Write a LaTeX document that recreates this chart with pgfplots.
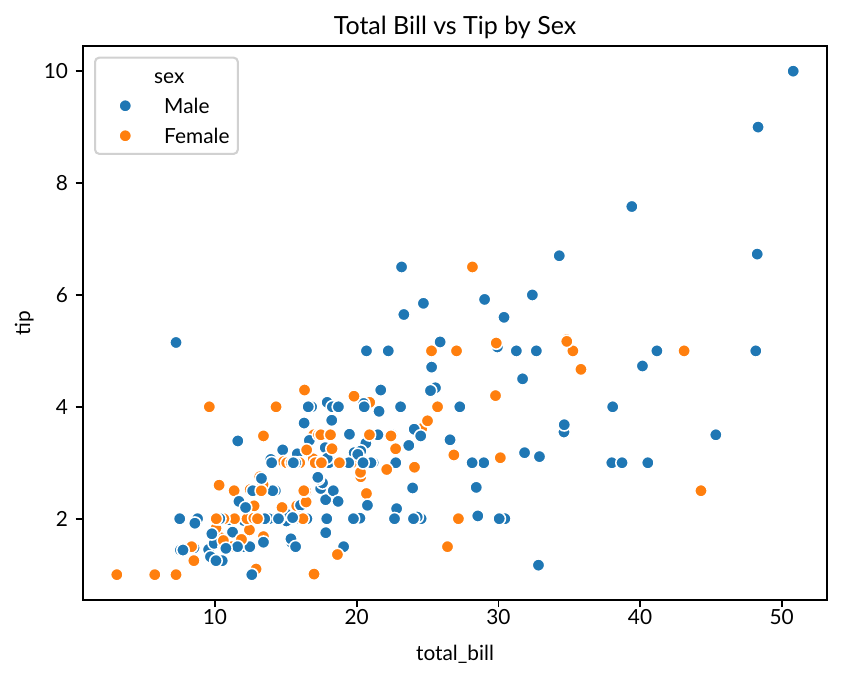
\documentclass[border=0pt]{standalone}
\usepackage{fontspec}
\setmainfont{Lato}
\usepackage{pgfplots}
\usepackage{pgfplotstable}
\pgfplotsset{compat=1.18}

\definecolor{tabblue}{RGB}{31,119,180}
\definecolor{taborange}{RGB}{255,127,14}

% tips data: total_bill, tip, sex (M/F), in original row order
\pgfplotstableread{
x y s
16.99 1.01 F
10.34 1.66 M
21.01 3.50 M
23.68 3.31 M
24.59 3.61 F
25.29 4.71 M
8.77 2.00 M
26.88 3.12 M
15.04 1.96 M
14.78 3.23 M
10.27 1.71 M
35.26 5.00 F
15.42 1.57 M
18.43 3.00 M
14.83 3.02 F
21.58 3.92 M
10.33 1.67 F
16.29 3.71 M
16.97 3.50 F
20.65 3.35 M
17.92 4.08 M
20.29 2.75 F
15.77 2.23 F
39.42 7.58 M
19.82 3.18 M
17.81 2.34 M
13.37 2.00 M
12.69 2.00 M
21.70 4.30 M
19.65 3.00 F
9.55 1.45 M
18.35 2.50 M
15.06 3.00 F
20.69 2.45 F
17.78 3.27 M
24.06 3.60 M
16.31 2.00 M
16.93 3.07 F
18.69 2.31 M
31.27 5.00 M
16.04 2.24 M
17.46 2.54 M
13.94 3.06 M
9.68 1.32 M
30.40 5.60 M
18.29 3.00 M
22.23 5.00 M
32.40 6.00 M
28.55 2.05 M
18.04 3.00 M
12.54 2.50 M
10.29 2.60 F
34.81 5.20 F
9.94 1.56 M
25.56 4.34 M
19.49 3.51 M
38.01 3.00 M
26.41 1.50 F
11.24 1.76 M
48.27 6.73 M
20.29 3.21 M
13.81 2.00 M
11.02 1.98 M
18.29 3.76 M
17.59 2.64 M
20.08 3.15 M
16.45 2.47 F
3.07 1.00 F
20.23 2.01 M
15.01 2.09 M
12.02 1.97 M
17.07 3.00 F
26.86 3.14 F
25.28 5.00 F
14.73 2.20 F
10.51 1.25 M
17.92 3.08 M
27.20 4.00 M
22.76 3.00 M
17.29 2.71 M
19.44 3.00 M
16.66 3.40 M
10.07 1.83 F
32.68 5.00 M
15.98 2.03 M
34.83 5.17 F
13.03 2.00 M
18.28 4.00 M
24.71 5.85 M
21.16 3.00 M
28.97 3.00 M
22.49 3.50 M
5.75 1.00 F
16.32 4.30 F
22.75 3.25 F
40.17 4.73 M
27.28 4.00 M
12.03 1.50 M
21.01 3.00 M
12.46 1.50 M
11.35 2.50 F
15.38 3.00 F
44.30 2.50 F
22.42 3.48 F
20.92 4.08 F
15.36 1.64 M
20.49 4.06 M
25.21 4.29 M
18.24 3.76 M
14.31 4.00 F
14.00 3.00 M
7.25 1.00 F
38.07 4.00 M
23.95 2.55 M
25.71 4.00 F
17.31 3.50 F
29.93 5.07 M
10.65 1.50 F
12.43 1.80 F
24.08 2.92 F
11.69 2.31 M
13.42 1.68 F
14.26 2.50 M
15.95 2.00 M
12.48 2.52 F
29.80 4.20 F
8.52 1.48 M
14.52 2.00 F
11.38 2.00 F
22.82 2.18 M
19.08 1.50 M
20.27 2.83 F
11.17 1.50 F
12.26 2.00 F
18.26 3.25 F
8.51 1.25 F
10.33 2.00 F
14.15 2.00 F
16.00 2.00 M
13.16 2.75 F
17.47 3.50 F
34.30 6.70 M
41.19 5.00 M
27.05 5.00 F
16.43 2.30 F
8.35 1.50 F
18.64 1.36 F
11.87 1.63 F
9.78 1.73 M
7.51 2.00 M
14.07 2.50 M
13.13 2.00 M
17.26 2.74 M
24.55 2.00 M
19.77 2.00 M
29.85 5.14 F
48.17 5.00 M
25.00 3.75 F
13.39 2.61 F
16.49 2.00 M
21.50 3.50 M
12.66 2.50 M
16.21 2.00 F
13.81 2.00 M
17.51 3.00 F
24.52 3.48 M
20.76 2.24 M
31.71 4.50 M
10.59 1.61 F
10.63 2.00 F
50.81 10.00 M
15.81 3.16 M
7.25 5.15 M
31.85 3.18 M
16.82 4.00 M
32.90 3.11 M
17.89 2.00 M
14.48 2.00 M
9.60 4.00 F
34.63 3.55 M
34.65 3.68 M
23.33 5.65 M
45.35 3.50 M
23.17 6.50 M
40.55 3.00 M
20.69 5.00 M
20.90 3.50 F
30.46 2.00 M
18.15 3.50 F
23.10 4.00 M
15.69 1.50 M
19.81 4.19 F
28.44 2.56 M
15.48 2.02 M
16.58 4.00 M
7.56 1.44 M
10.34 2.00 M
43.11 5.00 F
13.00 2.00 F
13.51 2.00 M
18.71 4.00 M
12.74 2.01 F
13.00 2.00 F
16.40 2.50 F
20.53 4.00 M
16.47 3.23 F
26.59 3.41 M
38.73 3.00 M
24.27 2.03 M
12.76 2.23 F
30.06 2.00 M
25.89 5.16 M
48.33 9.00 M
13.27 2.50 F
28.17 6.50 F
12.90 1.10 F
28.15 3.00 M
11.59 1.50 M
7.74 1.44 M
30.14 3.09 F
12.16 2.20 M
13.42 3.48 F
8.58 1.92 M
15.98 3.00 F
13.42 1.58 M
16.27 2.50 F
10.09 2.00 F
20.45 3.00 M
13.28 2.72 M
22.12 2.88 F
24.01 2.00 M
15.69 3.00 M
11.61 3.39 M
10.77 1.47 M
15.53 3.00 M
10.07 1.25 M
12.60 1.00 M
32.83 1.17 M
35.83 4.67 F
29.03 5.92 M
27.18 2.00 F
22.67 2.00 M
17.82 1.75 M
18.78 3.00 F
}\tips

\begin{document}
\begin{tikzpicture}
\begin{axis}[
  scale only axis,
  width=357.2pt, height=265.9pt,
  xmin=0.683, xmax=53.197,
  ymin=0.55, ymax=10.45,
  xtick={10,20,30,40,50},
  ytick={2,4,6,8,10},
  xtick pos=bottom, ytick pos=left,
  tick align=outside,
  major tick length=3.5pt,
  every tick/.style={black, line width=0.8pt},
  axis line style={black, line width=0.8pt},
  /pgf/number format/assume math mode=true,
  font=\fontsize{10}{12}\selectfont,
  xticklabel style={anchor=north, inner sep=0pt, yshift=-1pt},
  yticklabel style={anchor=east, inner sep=0pt, xshift=-3.5pt},
  title={Total Bill vs Tip by Sex},
  every axis title/.style={at={([yshift=5.3pt]axis description cs:0.5,1)}, anchor=base, inner sep=0pt, font=\fontsize{12}{14}\selectfont},
  xlabel={total\_bill},
  xlabel style={at={([yshift=-29.3pt]axis description cs:0.5,0)}, anchor=base, inner sep=0pt},
  ylabel={tip},
  ylabel style={at={([xshift=-25.4pt]axis description cs:0,0.5)}, anchor=base, inner sep=0pt, rotate=0},
  legend cell align=left,
  legend style={
    at={(0,1)}, anchor=north west, xshift=5.3pt, yshift=-5.1pt,
    draw=black!18, line width=1pt, rounded corners=2pt,
    fill=white, fill opacity=0.8, text opacity=1,
    inner xsep=4pt, inner ysep=3.7pt,
    row sep=4.4pt, column sep=8.2pt,
    nodes={inner sep=0pt, text height=8.5pt, text depth=1.5pt},
    font=\fontsize{10}{12}\selectfont,
  },
]
\addplot[
  scatter, only marks,
  scatter src=explicit symbolic,
  mark=*, mark size=3pt,
  scatter/classes={
    M={mark=*, draw=white, fill=tabblue, line width=0.75pt},
    F={mark=*, draw=white, fill=taborange, line width=0.75pt}
  },
  forget plot,
] table[x=x, y=y, meta=s] {\tips};

\addlegendimage{empty legend}
\addlegendentry{\hspace*{-4.8pt}sex}
\addlegendimage{legend image code/.code={
  \path (-10pt,0pt) (10pt,0pt);
  \path[draw=white, fill=tabblue, line width=0.75pt, fill opacity=1, draw opacity=1] plot[mark=*, mark size=3pt, only marks] coordinates {(0pt,0pt)};}}
\addlegendentry{Male}
\addlegendimage{legend image code/.code={
  \path (-10pt,0pt) (10pt,0pt);
  \path[draw=white, fill=taborange, line width=0.75pt, fill opacity=1, draw opacity=1] plot[mark=*, mark size=3pt, only marks] coordinates {(0pt,0pt)};}}
\addlegendentry{Female}
\end{axis}
\path ([xshift=-39.84pt,yshift=-37.92pt]current axis.south west)
  rectangle ([xshift=7.2pt,yshift=22.08pt]current axis.north east);
\end{tikzpicture}
\end{document}
